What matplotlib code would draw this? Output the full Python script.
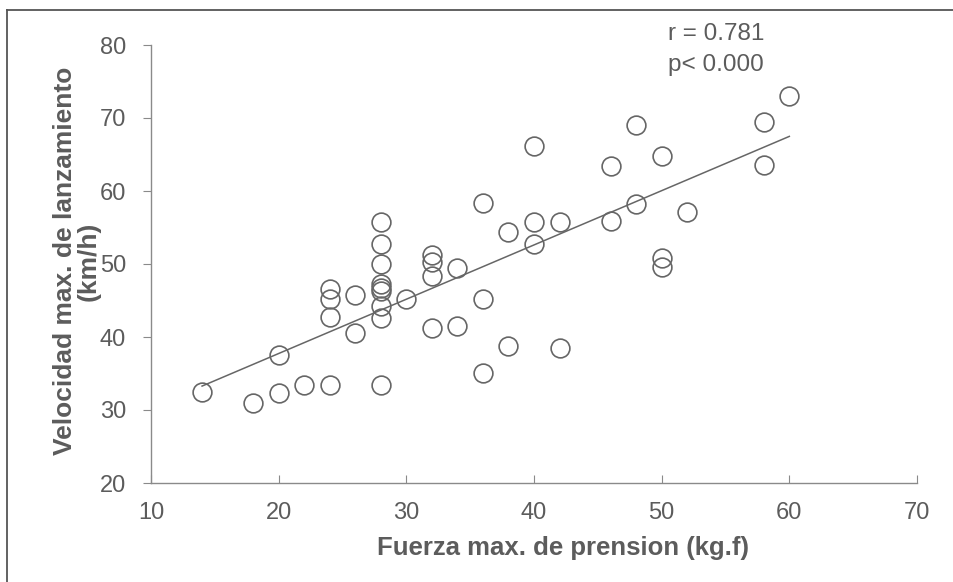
import numpy as np
import matplotlib
matplotlib.use("Agg")
import matplotlib.pyplot as plt
from matplotlib.lines import Line2D

# Data
fuerza = [14, 18, 20, 20, 22,
          24, 24, 24, 24,
          26, 26,
          28, 28, 28, 28, 28, 28, 28, 28, 28,
          30,
          32, 32, 32, 32,
          34, 34,
          36, 36, 36,
          38, 38,
          40, 40, 40,
          42, 42,
          46, 46,
          48, 48,
          50, 50, 50,
          52,
          58, 58,
          60]
velocidad = [32.5, 31.0, 32.3, 37.6, 33.4,
             33.4, 46.6, 45.2, 42.8,
             45.8, 40.5,
             33.4, 55.7, 52.7, 50.0, 47.2, 46.7, 46.3, 44.2, 42.6,
             45.2,
             51.3, 50.3, 48.3, 41.2,
             49.4, 41.5,
             58.3, 45.2, 35.1,
             54.4, 38.7,
             66.1, 55.7, 52.8,
             55.8, 38.5,
             63.4, 55.9,
             69.0, 58.2,
             64.8, 50.8, 49.6,
             57.1,
             69.4, 63.5,
             73.0]
x_ticks = [10, 20, 30, 40, 50, 60, 70]
y_ticks = [20, 30, 40, 50, 60, 70, 80]
x_label = "Fuerza max. de prension (kg.f)"
y_label = "Velocidad max. de lanzamiento\n(km/h)"
stats_text = ["r = 0.781", "p< 0.000"]

text_col = "#5c5c5c"
mark_col = "#666666"
font = ["Liberation Sans", "DejaVu Sans"]

fig = plt.figure(figsize=(9.54, 5.82), dpi=100)
ax = fig.add_axes([151/954, 1-483/582, (917-151)/954, (483-45)/582])

ax.plot(fuerza, velocidad, linestyle="none", marker="o", markersize=13.5,
        markerfacecolor="none", markeredgecolor=mark_col, markeredgewidth=1.2)

xs = np.array(fuerza, dtype=float)
ys = np.array(velocidad, dtype=float)
slope, intercept = np.polyfit(xs, ys, 1)
xl = np.array([xs.min(), xs.max()])
ax.plot(xl, slope*xl + intercept, color=mark_col, linewidth=1.1)

ax.set_xlim(10, 70)
ax.set_ylim(20, 80)
ax.set_xticks(x_ticks)
ax.set_yticks(y_ticks)
ax.spines["top"].set_visible(False)
ax.spines["right"].set_visible(False)
for s in ("left", "bottom"):
    ax.spines[s].set_color("#8a8a8a")
    ax.spines[s].set_linewidth(1.0)
ax.tick_params(axis="y", direction="out", length=6, color="#8a8a8a",
               labelcolor=text_col, pad=12)
ax.tick_params(axis="x", direction="in", length=6, color="#8a8a8a",
               labelcolor=text_col, pad=14)
for lab in ax.get_xticklabels() + ax.get_yticklabels():
    lab.set_fontfamily(font)
    lab.set_fontsize(17)

fig.text(563/954, 1-548/582, x_label, ha="center", va="center",
         fontfamily=font, fontweight="bold", fontsize=18.5, color=text_col)
fig.text(77/954, 1-261/582, y_label, rotation=90, ha="center", va="center",
         multialignment="center", fontfamily=font, fontweight="bold",
         fontsize=19, color=text_col, linespacing=0.95)

fig.text(668/954, 1-34/582, stats_text[0], ha="left", va="center",
         fontfamily=font, fontsize=17.5, color=text_col)
fig.text(668/954, 1-65/582, stats_text[1], ha="left", va="center",
         fontfamily=font, fontsize=17.5, color=text_col)

# outer chart-area frame (left and top)
fig.add_artist(Line2D([7/954, 7/954], [0, 1-10/582], transform=fig.transFigure,
                      color="#555555", linewidth=1.3))
fig.add_artist(Line2D([7/954, 1], [1-10/582, 1-10/582], transform=fig.transFigure,
                      color="#555555", linewidth=1.3))

fig.savefig("out.png", dpi=100)
